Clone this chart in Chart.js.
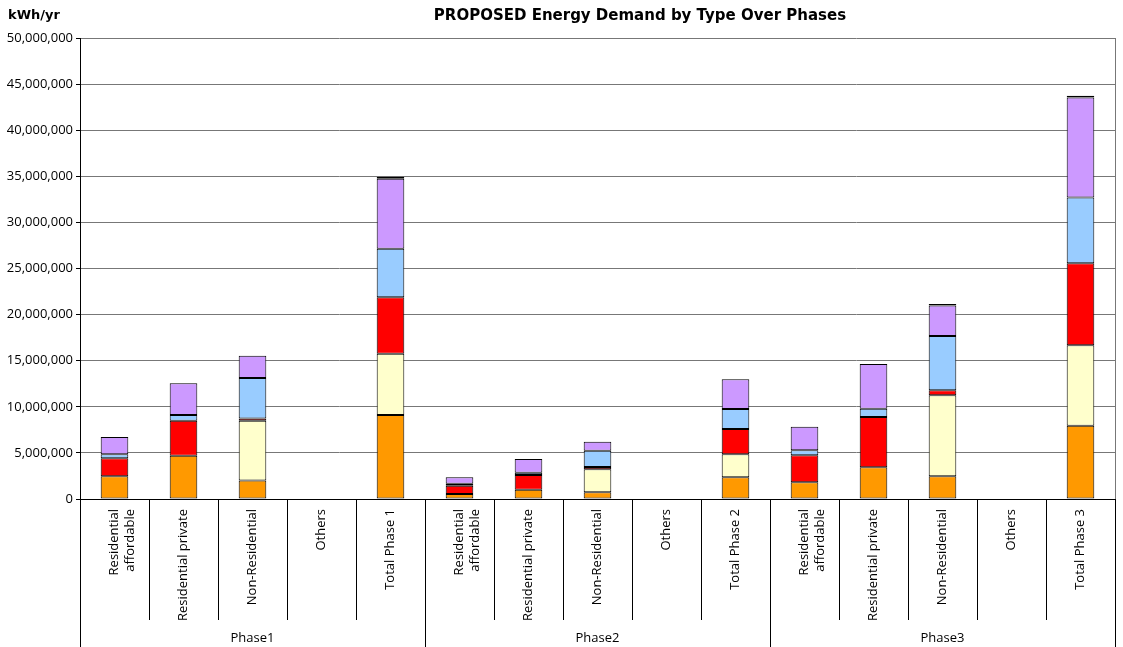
<!DOCTYPE html>
<html>
<head>
<meta charset="utf-8">
<title>PROPOSED Energy Demand by Type Over Phases</title>
<script src="https://cdn.jsdelivr.net/npm/chart.js@4.4.1/dist/chart.umd.min.js"></script>
<style>
  html, body { margin: 0; padding: 0; background: #fff; }
  #wrap { width: 1123px; height: 647px; position: relative; }
</style>
</head>
<body>
<div id="wrap"><canvas id="energy-chart"></canvas></div>
<script>
// ==================== DATA ====================
const categories = [
    ['Residential', 'affordable'], 'Residential private', 'Non-Residential', 'Others', 'Total Phase 1',
    ['Residential', 'affordable'], 'Residential private', 'Non-Residential', 'Others', 'Total Phase 2',
    ['Residential', 'affordable'], 'Residential private', 'Non-Residential', 'Others', 'Total Phase 3'
];
const phases = ['Phase1', 'Phase2', 'Phase3'];
const perPhase = 5;

// kWh/yr, bottom segment first (null = nothing drawn)
const typeOrange = [2460000, 4700000, 2000000, null, 9110000, 550000, 1000000, 720000, null, 2350000, 1810000, 3440000, 2460000, null, 7950000];
const typeYellow = [null, null, 6500000, null, 6650000, null, null, 2500000, null, 2500000, null, null, 8790000, null, 8720000];
const typeRed = [1950000, 3800000, 220000, null, 6110000, 900000, 1600000, 250000, null, 2740000, 2930000, 5460000, 540000, null, 8890000];
const typeBlue = [440000, 600000, 4400000, null, 5280000, 200000, 250000, 1770000, null, 2170000, 540000, 900000, 5890000, null, 7140000];
const typePurple = [1870000, 3450000, 2430000, null, 7590000, 700000, 1500000, 980000, null, 3220000, 2560000, 4840000, 3320000, null, 10860000];
const typeDark = [null, null, null, null, 220000, null, null, null, null, null, null, null, 150000, null, 180000];

const yTicksMax = 50000000;
const yTicksStep = 5000000;

const FONT = '"Open Sans", "DejaVu Sans", sans-serif';
const TITLE_FONT = '"DejaVu Sans", sans-serif';

// ==================== PLUGIN: titles, separators, phase labels ====================
const decorPlugin = {
    id: 'decor',
    afterDraw(chart) {
        const ctx = chart.ctx;
        const x = chart.scales.x;
        const area = chart.chartArea;
        const step = x.width / categories.length;
        ctx.save();
        // right border of plot area
        ctx.strokeStyle = '#777';
        ctx.lineWidth = 1;
        ctx.beginPath();
        ctx.moveTo(Math.round(area.right) + 0.5, area.top);
        ctx.lineTo(Math.round(area.right) + 0.5, area.bottom);
        ctx.stroke();
        // category separators below the axis
        ctx.strokeStyle = '#000';
        for (let i = 0; i <= categories.length; i++) {
            const px = Math.round(x.left + i * step) + 0.5;
            const isGroup = i % perPhase === 0;
            ctx.beginPath();
            ctx.moveTo(px, area.bottom);
            ctx.lineTo(px, isGroup ? chart.height : area.bottom + 121);
            ctx.stroke();
        }
        // phase labels
        ctx.fillStyle = '#000';
        ctx.font = '13px ' + FONT;
        ctx.textAlign = 'center';
        ctx.textBaseline = 'middle';
        phases.forEach((p, i) => {
            const cx = x.left + (i * perPhase + perPhase / 2) * step;
            ctx.fillText(p, cx, area.bottom + 139);
        });
        // titles
        ctx.font = 'bold 13px ' + TITLE_FONT;
        ctx.textAlign = 'left';
        ctx.fillText('kWh/yr', 8, 16);
        ctx.font = 'bold 15px ' + TITLE_FONT;
        ctx.textAlign = 'center';
        ctx.fillText('PROPOSED Energy Demand by Type Over Phases', 640, 16);
        ctx.restore();
    }
};

function makeSet(label, data, color) {
    return {
        label, data, backgroundColor: color, borderColor: '#000', borderWidth: 1, borderSkipped: false,
        barPercentage: 0.4, categoryPercentage: 1.0
    };
}

const ctx = document.getElementById('energy-chart');
new Chart(ctx, {
    type: 'bar',
    data: {
        labels: categories,
        datasets: [
            makeSet('Type 1', typeOrange, '#FF9900'),
            makeSet('Type 2', typeYellow, '#FFFFCC'),
            makeSet('Type 3', typeRed, '#FF0000'),
            makeSet('Type 4', typeBlue, '#99CCFF'),
            makeSet('Type 5', typePurple, '#CC99FF'),
            makeSet('Type 6', typeDark, '#200010')
        ]
    },
    options: {
        responsive: true,
        maintainAspectRatio: false,
        animation: false,
        layout: { padding: { top: 38, right: 8, left: 0, bottom: 0 } },
        plugins: { legend: { display: false }, title: { display: false }, tooltip: { enabled: true } },
        scales: {
            x: {
                stacked: true,
                grid: { display: false },
                border: { display: true, color: '#000', width: 1 },
                ticks: { color: '#000', font: { family: FONT, size: 13 }, minRotation: 90, maxRotation: 90, autoSkip: false, padding: 2 },
                afterFit: s => { s.height = 148; }
            },
            y: {
                stacked: true,
                min: 0,
                max: yTicksMax,
                grid: { color: '#777', tickLength: 4, tickColor: '#000' },
                border: { display: true, color: '#000', width: 1 },
                ticks: { stepSize: yTicksStep, color: '#000', font: { family: FONT, size: 13 }, padding: 3, callback: v => v.toLocaleString('en-US') },
                afterFit: s => { s.width = 80; }
            }
        }
    },
    plugins: [decorPlugin]
});
</script>
</body>
</html>
